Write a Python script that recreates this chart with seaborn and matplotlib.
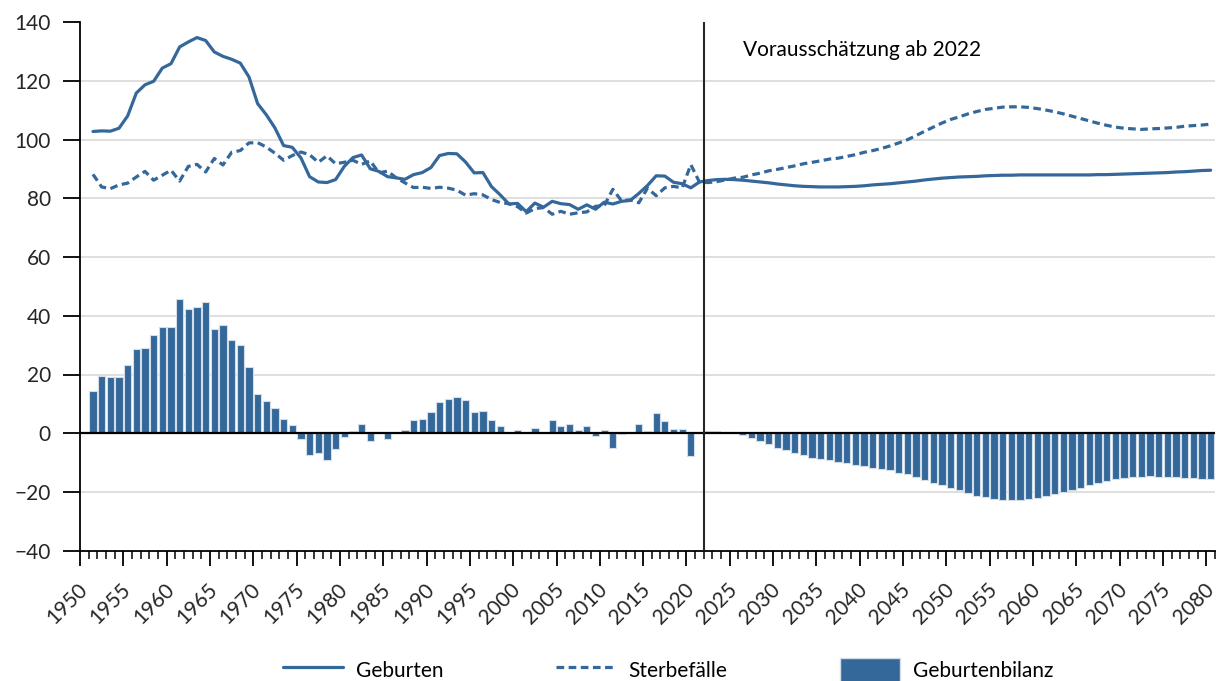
import numpy as np
import pandas as pd
import matplotlib
matplotlib.use('Agg')
import matplotlib.pyplot as plt
import matplotlib.transforms as mtransforms
from matplotlib.lines import Line2D
from matplotlib.patches import Patch
from matplotlib.ticker import MultipleLocator
import seaborn as sns

sns.set_theme(style='white', rc={'text.color': 'black', 'axes.labelcolor': 'black'})
plt.rcParams['font.family'] = ['Lato', 'DejaVu Sans']

blue = '#34689a'

# values in 1000
years_hist = list(range(1951, 2022))
years_proj = list(range(2022, 2081))

births_hist = [102.8, 103.0, 102.9, 103.9, 108.1, 115.9, 118.7, 119.9, 124.4, 125.9,
               131.6, 133.3, 134.8, 133.8, 129.9, 128.4, 127.4, 126.1, 121.4, 112.3,
               108.5, 104.0, 98.0, 97.4, 93.8, 87.4, 85.6, 85.4, 86.4, 90.9,
               93.9, 94.8, 90.1, 89.2, 87.4, 87.0, 86.5, 88.1, 88.8, 90.5,
               94.6, 95.3, 95.2, 92.4, 88.7, 88.8, 84.0, 81.2, 78.1, 78.3,
               75.5, 78.4, 77.0, 79.0, 78.2, 77.9, 76.3, 77.8, 76.3, 78.7,
               78.1, 79.0, 79.3, 81.7, 84.4, 87.7, 87.6, 85.5, 85.0, 83.6, 85.6]
deaths_hist = [88.2, 83.9, 83.3, 84.6, 85.2, 87.3, 89.2, 86.2, 87.9, 89.6,
               85.9, 90.9, 91.6, 89.0, 93.6, 91.4, 95.7, 96.3, 98.9, 99.0,
               97.5, 95.4, 93.0, 94.6, 95.8, 94.9, 92.3, 94.5, 91.8, 92.3,
               93.0, 91.6, 92.8, 88.7, 89.3, 87.0, 85.3, 83.7, 83.8, 83.4,
               83.8, 83.5, 82.8, 81.1, 81.6, 81.2, 79.6, 78.6, 78.2, 77.2,
               75.0, 76.5, 76.9, 74.6, 75.6, 74.6, 75.1, 75.4, 77.3, 77.5,
               83.1, 79.2, 79.5, 78.5, 83.5, 80.9, 83.6, 84.1, 83.6, 91.5, 85.5]
balance_hist = [14.3, 19.4, 19.2, 19.0, 23.4, 28.7, 29.1, 33.6, 36.1, 36.1,
                45.7, 42.2, 43.0, 44.7, 35.4, 37.0, 31.7, 29.9, 22.4, 13.2,
                10.9, 8.6, 5.0, 2.8, -2.0, -7.5, -6.7, -9.1, -5.4, -1.4,
                0.9, 3.2, -2.7, 0.5, -1.9, 0.0, 1.2, 4.4, 5.0, 7.1,
                10.8, 11.8, 12.4, 11.3, 7.1, 7.6, 4.4, 2.6, 0.0, 1.1,
                0.5, 1.9, 0.0, 4.4, 2.6, 3.3, 1.2, 2.3, -1.0, 1.2,
                -5.0, -0.3, 0.0, 3.2, 0.9, 6.8, 4.0, 1.4, 1.4, -7.9, 0.1]

births_proj = [86.1, 86.4, 86.5, 86.4, 86.2, 85.9, 85.6, 85.3, 84.9,
               84.6, 84.3, 84.1, 84.0, 83.9, 83.9, 83.9, 84.0, 84.1, 84.3,
               84.6, 84.8, 85.0, 85.3, 85.6, 85.9, 86.3, 86.6, 86.9, 87.1,
               87.3, 87.4, 87.5, 87.7, 87.8, 87.9, 87.9, 88.0, 88.0, 88.0,
               88.0, 88.0, 88.0, 88.0, 88.0, 88.0, 88.1, 88.1, 88.2, 88.3,
               88.4, 88.5, 88.6, 88.7, 88.8, 89.0, 89.1, 89.3, 89.5, 89.6]
deaths_proj = [85.4, 85.7, 86.3, 86.9, 87.2, 88.0, 88.6, 89.4, 89.9,
               90.5, 91.1, 91.8, 92.3, 92.8, 93.4, 93.7, 94.3, 94.9, 95.7,
               96.3, 97.0, 97.9, 98.9, 100.0, 101.4, 102.9, 104.3, 105.7, 106.9,
               107.8, 108.8, 109.6, 110.3, 110.7, 111.1, 111.2, 111.2, 111.0, 110.6,
               110.1, 109.5, 108.8, 108.0, 107.2, 106.4, 105.6, 104.9, 104.3, 103.9,
               103.7, 103.5, 103.7, 103.8, 104.0, 104.2, 104.6, 104.8, 105.0, 105.3]
balance_proj = [0.7, 0.7, 0.4, 0.0, -0.7, -1.7, -2.7, -3.8, -4.9,
                -5.8, -6.8, -7.5, -8.3, -8.9, -9.3, -9.8, -10.1, -10.7, -11.3,
                -11.7, -12.2, -12.7, -13.4, -14.0, -14.9, -15.9, -16.8, -17.7, -18.8,
                -19.5, -20.3, -21.3, -21.8, -22.3, -22.6, -22.8, -22.7, -22.4, -22.0,
                -21.5, -20.8, -20.1, -19.4, -18.6, -17.6, -16.8, -16.3, -15.7, -15.2,
                -14.9, -14.8, -14.7, -14.9, -14.9, -15.0, -15.1, -15.3, -15.5, -15.6]

df = pd.DataFrame({'year': years_hist + years_proj,
                   'births': births_hist + births_proj,
                   'deaths': deaths_hist + deaths_proj,
                   'balance': balance_hist + balance_proj})

fig = plt.figure(figsize=(12.16, 6.81), dpi=100)
ax = fig.add_axes([80/1216, 1-550.6/681, (1215-80)/1216, (550.6-22.3)/681])

sns.barplot(data=df, x='year', y='balance', native_scale=True, width=0.84,
            color=blue, saturation=1, edgecolor='#d3dee9', linewidth=0.8, ax=ax, zorder=2)
sns.lineplot(data=df, x='year', y='births', color=blue, lw=2.3, ax=ax, zorder=3)
sns.lineplot(data=df, x='year', y='deaths', color=blue, lw=2.3, ax=ax, zorder=3,
             linestyle=(0, (2.4, 1.4)))

ax.axhline(0, color='black', lw=1.6, zorder=4)
ax.axvline(2021.5, color='#262626', lw=1.5, zorder=4)
ax.text(2026, 130.4, 'Vorausschätzung ab 2022', fontsize=15, va='center', ha='left')

ax.set_xlim(1949.5, 2080.5)
ax.set_ylim(-40, 140)
ax.set_xlabel('')
ax.set_ylabel('')

ax.set_yticks(np.arange(-40, 141, 20))
ax.yaxis.grid(True, color='#d9d9d9', lw=1.2)
ax.get_ygridlines()[-1].set_visible(False)
ax.get_ygridlines()[0].set_visible(False)
ax.set_axisbelow(True)
ax.tick_params(axis='y', direction='out', length=12, width=1.3, color='black',
               labelsize=15, pad=9, left=True)

bounds = np.arange(1949.5, 2081, 5)
ax.set_xticks(bounds)
ax.set_xticklabels([str(int(b + 0.5)) for b in bounds])
ax.xaxis.set_minor_locator(MultipleLocator(1, offset=0.5))
ax.tick_params(axis='x', which='major', direction='out', length=11, width=1.3,
               color='black', labelsize=15, pad=15, bottom=True)
ax.tick_params(axis='x', which='minor', direction='out', length=6, width=1.1,
               color='black', bottom=True)
shift = mtransforms.ScaledTranslation(4.3/100, 0, fig.dpi_scale_trans)
for lbl in ax.get_xticklabels():
    lbl.set_rotation(45)
    lbl.set_ha('right')
    lbl.set_va('center')
    lbl.set_rotation_mode('anchor')
    lbl.set_transform(lbl.get_transform() + shift)

sns.despine(ax=ax, top=True, right=True)
for side in ['left', 'bottom']:
    ax.spines[side].set_color('black')
    ax.spines[side].set_linewidth(1.3)

handles = [Line2D([], [], color=blue, lw=2.3),
           Line2D([], [], color=blue, lw=2.3, linestyle=(0, (2.4, 1.4))),
           Patch(facecolor=blue, edgecolor='#d3dee9')]
fig.legend(handles, ['Geburten', 'Sterbefälle', 'Geburtenbilanz'], loc='center',
           bbox_to_anchor=(668/1216, 11/681), ncol=3, frameon=False, fontsize=15,
           handlelength=2.9, handleheight=1.4, handletextpad=0.6, columnspacing=5.4)

fig.savefig('out.png', dpi=100)
